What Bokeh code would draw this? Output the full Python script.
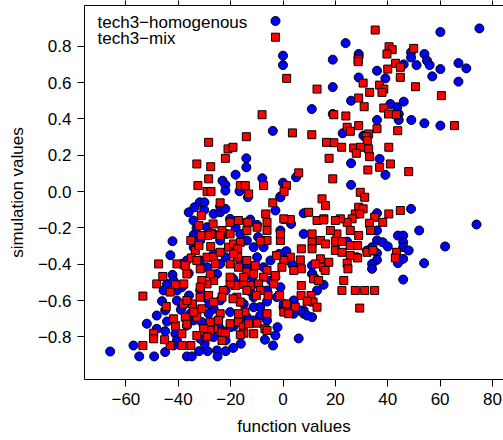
from bokeh.plotting import figure
from bokeh.models import Range1d, LinearAxis, FixedTicker, CustomLabelingPolicy
from bokeh.core.properties import value
from bokeh.embed import file_html
from bokeh.resources import INLINE

# ---------------- data ----------------
x_ticks = [-60, -40, -20, 0, 20, 40, 60, 80]
x_tick_labels = ["\u221260", "\u221240", "\u221220", "0", "20", "40", "60", "80"]
y_ticks = [-0.8, -0.6, -0.4, -0.2, 0.0, 0.2, 0.4, 0.6, 0.8]
y_tick_labels = ["\u22120.8", "\u22120.6", "\u22120.4", "\u22120.2", "0.0", "0.2", "0.4", "0.6", "0.8"]

series_names = ["tech3\u2212homogenous", "tech3\u2212mix"]

homog_x = [
    75, 60.1, 23.9, 0, 0, 19, 28.9, 28.9, 48.9, 48.9, 54, 51, 55, 56, 46.1, 60.1, 67, 70, 67, 57,
    35.9, 39.1, 28.9, 19, 26, 41, 46.1, 43.6, 44.2, 44.2, 49, 54, 60.1, 35.9, 11, 19, -3.9, 22.8,
    30.7, 36.9, 26, 39.1, 26, -14, -14, -18.1, -7.9, -23.1, -22, -22, 0, 5, -1,
    48.9, 73.9, 52, 61.9, 53.9, 45.9, 6, 35.9, 35.9, 35.9, 38.1, 40, 35.9, 35.9, 34, 34, 43.9, 45.9,
    45.9, 45.9, 48, 45.9, 43.9, 34, 32.1, 28.3, 24.5, 7.9, 7.9, 11.1, 15.5, 7.9, 11.1, -2.1, -2.9,
    -3.8, -1, -2.9, 3.1, -1, 0.9, 11.1, 4.1, 7.9, 0.2, 1.3, 3.6, -1.5, 11.2, 12.4, 9.2, -6.9, -6.1,
    -8.7, 2.2,
    -42.2, -36, -34.2, -33.8, -31.8, -30.1, -30, -26.5, -24, -24, -22, -20.2, -18.1, -12.5, -9.9,
    -13.4, -16.6, -34.1, -31.6, -34.1, -36.7, -38.6, -42.2, -44.3, -45.6, -46.2, -45, -48.2, -52,
    -48.2, -45, -44.3, -41.1, -40.5, -41.8, -45, -49.2, -54.9, -57.1, -66, -36.7, -34.8, -32,
    -28.8, -29.9, -31.6, -25.2, -25, -21.9, -21.9, -26.5, -24, -18.9, -16.1, -36.7, -34.1, -35.4,
    -38.6, -40.5, -35.9, -38.6, -41.8, -40.5, -31.6, -29, -28.4, -31, -26.5, -24, -21.9, -19,
    -16.3, -25.2, -29, -31.6, -26.5, -24, -21.9, -18.9, -16.3, -13.8, -11.8, -9.9, -7.4, -7.4,
    -4.8, -4.6, -6.1, -11.2, -15, -11.2, -8.7, -13.8, -20.2, -16.3, -11.2, -6.1, -16.3, -13.8,
    -11.2, -21.9, -24, -26.5, -29, -2.9, -1, -2.3, 0.3, 4.1, 6.6, 4.1, 13, -20.1, -9.5, -12.5,
    -28, -36, -43, -39, -33, -19, -14.5,
]
homog_y = [
    0.898, 0.878, 0.817, 0.748, 0.696, 0.726, 0.757, 0.742, 0.766, 0.738, 0.757, 0.696, 0.72, 0.696,
    0.70, 0.674, 0.707, 0.678, 0.605, 0.634, 0.665, 0.623, 0.628, 0.575, 0.50, 0.482, 0.495, 0.464,
    0.427, 0.394, 0.394, 0.376, 0.363, 0.394, 0.454, 0.427, 0.334, 0.321, 0.308, 0.18, 0.156, 0.092,
    0.037, 0.183, 0.134, 0.093, 0.073, 0.06, 0.037, 0.005, 0.049, 0.079, -0.027,
    -0.095, -0.181, -0.214, -0.302, -0.394, -0.484, -0.808, -0.119, -0.214, -0.269, -0.279, -0.302,
    -0.339, -0.376, -0.398, -0.425, -0.242, -0.242, -0.279, -0.306, -0.324, -0.37, -0.394, -0.306,
    -0.324, -0.361, -0.275, -0.233, -0.119, -0.453, -0.513, -0.672, -0.691, -0.746, -0.792, -0.847,
    -0.031, -0.104, -0.178, -0.214, -0.334, -0.407, -0.617, -0.654, -0.636, -0.328, -0.403, -0.343,
    -0.453, -0.48, -0.682, -0.815, -0.605, -0.682, -0.658,
    -0.273, -0.114, -0.159, -0.086, -0.059, -0.101, -0.059, -0.123, -0.114, -0.082, -0.095, -0.15,
    -0.196, -0.154, -0.183, -0.031, 0.002, -0.238, -0.269, -0.306, -0.379, -0.398, -0.458, -0.508,
    -0.544, -0.603, -0.654, -0.682, -0.727, -0.755, -0.768, -0.715, -0.782, -0.819, -0.847, -0.883,
    -0.907, -0.907, -0.847, -0.88, -0.907, -0.907, -0.878, -0.878, -0.837, -0.81, -0.874, -0.907,
    -0.878, -0.819, -0.80, -0.755, -0.742, -0.837, -0.737, -0.709, -0.672, -0.636, -0.60, -0.572,
    -0.526, -0.489, -0.544, -0.544, -0.59, -0.672, -0.718, -0.645, -0.599, -0.544, -0.48, -0.508,
    -0.453, -0.416, -0.379, -0.343, -0.398, -0.361, -0.306, -0.379, -0.416, -0.471, -0.361, -0.306,
    -0.416, -0.379, -0.489, -0.544, -0.581, -0.618, -0.636, -0.636, -0.691, -0.663, -0.70, -0.709,
    -0.709, -0.233, -0.269, -0.306, -0.233, -0.269, -0.233, -0.196, -0.471, -0.526, -0.581, -0.618,
    -0.599, -0.654, -0.672, -0.544, -0.746, -0.25, -0.55, -0.62, -0.45, -0.35, -0.65, -0.2, -0.86,
]

mix_x = [
    35.2, 40.5, 41.7, 39.7, 49.9, 28.7, 28.7, 43, 44.8, 40, 44.8, 1.4, 30.6, 33.1, 36.9, 38.5, 37.8,
    13, 50.6, 60.5, 28.9, 31, 38.5, 40.3, 43.3, 19.4, 24, -8, 28.9, 24.5, 25.7, 35.9, 32.7, 31.8,
    43.8, 65.5, 3.6, 11, -14, 32.2, 27, 29.6, 32.7, 28, 33.1, 19.4, 16.6, 22.4, 40.4, 17.6, 36.9,
    41, 32.4, 48, 19, -28.4, -21, -19.1, -22, -27.6, -32.9, -28.4, -32.5, -29, -27.5, -16.3, -14.4,
    -13.1, -7.4, 6, 1.3, 0.4, -3.9, -24, -31.2,
    14.9, 16.2, 29.5, 31.2, 28.9, 30.6, 44.8, 40.4, 27.6, 29.3, 35, 38.1, 33, 26.4, 24.5, 21.9, 20,
    33.4, 28.9, 25.7, 20.6, 18.1, 15.6, 13, 9.8, 15.5, 0.9, 2.8, 11.1, 11.1, 14.3, 16.2, 20, 22.5,
    25.7, 28.5, 7, 11.1, 20, 22.5, 25.7, 28.5, 32.1, 34.4, 43.3, 42.9, 14.3, 12.4, 15.5, 17.5, 11.7,
    13.6, 16.1, 24.5, 24.8, 23.2, 22.5, 27.6, 31.2, 35, 29.3, 6.6, 7, 7, 4.1, 2.8, 0.3, -0.4, -2.9,
    -1, -1, 0.3, -2.5,
    -6.1, -6.6, -6.1, -9.9, -13.8, -13.5, -17, -20.2, -23.3, -20.2, -24, -26.7, -27.5, -28.8, -31.3,
    -32.1, -35.2, -33.5, -32.1, -35, -32.9, -40.5, -37.3, -47.5, -29, -26.5, -24, -20.8, -18.9,
    -16.3, -17.3, -20.2, -17.3, -13.8, -10.6, -13.8, -6.1, -8.7, -6.1, -7.4, -3.6, -9.3, -8.7,
    -12.5, -15, -18.2, -20.2, -22.8, -26.5, -29, -27.8, -31, -31.6, -36.7, -37.9, -41.1, -48.2,
    -45.9, -43.1, -53.5, -44.6, -38, -34.6, -31.7, -28.4, -26.5, -23.3, -17.6, -16.3, -10.2, -5.7,
    -1.3, 1.3, 4.7, 10.7, 11.5, 13, 6.9, 9.2, 0.3, 2.2, -6.1, -9.9, -14.5, -17, -17, -15.2, -14.9,
    -16.3, -6.9, -20.2, -24, -24.6, -26.5, -23.3, -22, -23.3, -27.8, -27.8, -30.3, -32.9, -34.1,
    -32.9, -35.2, -38.6, -38.6, -41.1, -41.8, -43.1, -45.2, -49.4, -49.4, -53.5,
    -27.6, -18.9, -17, -25.9, -31.6, -20.2, -15, -11.2, -13.8, -19.1, -31, -36.7, -29, -37.3,
    -36.7, -11.2, -13.1, -6.1,
]
mix_y = [
    0.889, 0.797, 0.781, 0.757, 0.788, 0.726, 0.715, 0.706, 0.684, 0.674, 0.629, 0.623, 0.597, 0.546,
    0.586, 0.564, 0.546, 0.564, 0.577, 0.528, 0.515, 0.467, 0.46, 0.427, 0.423, 0.423, 0.416, 0.423,
    0.363, 0.354, 0.332, 0.346, 0.317, 0.302, 0.335, 0.363, 0.323, 0.313, 0.302, 0.28, 0.24, 0.244,
    0.235, 0.211, 0.192, 0.269, 0.271, 0.244, 0.244, 0.183, 0.134, 0.152, 0.119, 0.11, 0.07, 0.271,
    0.235, 0.244, 0.183, 0.137, 0.152, 0.07, 0.033, 0.0, 0.0, 0.033, 0.033, -0.013, 0.033, 0.103,
    0.033, 0.0, -0.062, -0.062, -0.132,
    -0.04, -0.077, -0.004, -0.031, -0.086, -0.095, -0.104, -0.123, -0.123, -0.123, -0.141, -0.169,
    -0.174, -0.15, -0.169, -0.15, -0.159, -0.214, -0.242, -0.214, -0.233, -0.214, -0.15, -0.159,
    -0.114, -0.156, -0.154, -0.154, -0.233, -0.279, -0.269, -0.288, -0.273, -0.275, -0.297, -0.297,
    -0.315, -0.315, -0.324, -0.334, -0.352, -0.365, -0.334, -0.324, -0.334, -0.365, -0.37, -0.398,
    -0.416, -0.389, -0.48, -0.489, -0.434, -0.394, -0.425, -0.489, -0.544, -0.544, -0.544, -0.544,
    -0.641, -0.376, -0.425, -0.517, -0.434, -0.361, -0.379, -0.416, -0.462, -0.269, -0.233, -0.15,
    -0.352,
    -0.214, -0.123, -0.169, -0.196, -0.214, -0.169, -0.159, -0.169, -0.214, -0.233, -0.242, -0.178,
    -0.233, -0.242, -0.242, -0.187, -0.269, -0.324, -0.297, -0.365, -0.379, -0.398, -0.407, -0.398,
    -0.361, -0.361, -0.334, -0.306, -0.288, -0.279, -0.315, -0.398, -0.361, -0.379, -0.407, -0.443,
    -0.269, -0.273, -0.434, -0.471, -0.508, -0.508, -0.544, -0.517, -0.508, -0.517, -0.508, -0.544,
    -0.489, -0.508, -0.453, -0.489, -0.425, -0.453, -0.508, -0.513, -0.508, -0.467, -0.553, -0.575,
    -0.632, -0.618, -0.618, -0.581, -0.572, -0.608, -0.581, -0.581, -0.608, -0.572, -0.572, -0.572,
    -0.618, -0.636, -0.572, -0.608, -0.636, -0.572, -0.603, -0.663, -0.672, -0.672, -0.724, -0.663,
    -0.672, -0.718, -0.745, -0.779, -0.788, -0.755, -0.727, -0.672, -0.709, -0.755, -0.773, -0.779,
    -0.819, -0.718, -0.764, -0.755, -0.691, -0.663, -0.792, -0.847, -0.847, -0.782, -0.737, -0.70,
    -0.847, -0.815, -0.779, -0.81, -0.847,
    -0.302, -0.343, -0.416, -0.398, -0.526, -0.471, -0.471, -0.453, -0.544, -0.59, -0.645, -0.599,
    -0.80, -0.691, -0.73, -0.782, -0.727, -0.764,
]

# ---------------- layout ----------------
W, H = 503, 440
LEFT, TOP, BOTTOM = 84, 5, 61
FW, FH = W - LEFT, H - TOP - BOTTOM
FONT = "Liberation Sans"
FS = "17px"

p = figure(width=W, height=H, output_backend="svg", toolbar_location=None,
           x_range=Range1d(-75.8, 84.2), y_range=Range1d(-1.034, 1.024),
           min_border_left=LEFT, min_border_right=0, min_border_top=TOP,
           min_border_bottom=BOTTOM, x_axis_location=None, y_axis_location=None)
p.outline_line_color = None
p.xgrid.visible = False
p.ygrid.visible = False


def style_axis(ax, ticks, labels):
    ax.ticker = FixedTicker(ticks=ticks)
    ax.major_label_overrides = dict(zip(ticks, labels))
    ax.minor_tick_line_color = None
    ax.major_tick_in = 0
    ax.major_tick_out = 7
    ax.axis_line_color = "black"
    ax.major_tick_line_color = "black"
    ax.major_label_text_font = FONT
    ax.major_label_text_font_size = FS
    ax.major_label_text_color = "black"
    ax.axis_label_text_font = FONT
    ax.axis_label_text_font_size = FS
    ax.axis_label_text_font_style = "normal"
    ax.axis_label_text_color = "black"


xb = LinearAxis(axis_label="function values")
style_axis(xb, x_ticks, x_tick_labels)
xb.major_label_standoff = 6
xb.axis_label_standoff = 9
p.add_layout(xb, "below")

yl = LinearAxis(axis_label="simulation values")
style_axis(yl, y_ticks, y_tick_labels)
yl.major_label_orientation = "horizontal"
yl.major_label_standoff = 6
yl.axis_label_standoff = 8
p.add_layout(yl, "left")

# top frame edge with outward tick marks only (no labels drawn)
xt = LinearAxis()
xt.ticker = FixedTicker(ticks=x_ticks)
xt.minor_tick_line_color = None
xt.major_tick_in = 0
xt.major_tick_out = 5
xt.major_label_text_font_size = "0px"
xt.major_label_standoff = 0
xt.major_label_policy = CustomLabelingPolicy(
    code="for (let i = 0; i < indices.size; i++) { indices.unset(i) }\nreturn indices")
xt.axis_line_color = "black"
p.add_layout(xt, "above")

# ---------------- points ----------------
p.scatter(homog_x, homog_y, marker="circle", size=9, fill_color="#0000FF",
          line_color="black", line_width=1)
p.scatter(mix_x, mix_y, marker="square", size=8, fill_color="#FF0000",
          line_color="black", line_width=1)

# ---------------- legend (frame pixel coordinates, y down from frame top) ----------------
p.extra_x_ranges = {"px": Range1d(0, FW)}
p.extra_y_ranges = {"py": Range1d(FH, 0)}
p.text(x=[13, 13], y=[16.5, 32.5], text=series_names, x_range_name="px", y_range_name="py",
       text_font=value(FONT), text_font_size=FS, text_color="black",
       text_align="left", text_baseline="middle")
p.scatter(x=[191], y=[15.5], marker="circle", size=9, fill_color="#0000FF",
          line_color="black", x_range_name="px", y_range_name="py")
p.scatter(x=[191], y=[31.7], marker="square", size=8, fill_color="#FF0000",
          line_color="black", x_range_name="px", y_range_name="py")

open("out.html", "w").write(file_html(p, INLINE))
